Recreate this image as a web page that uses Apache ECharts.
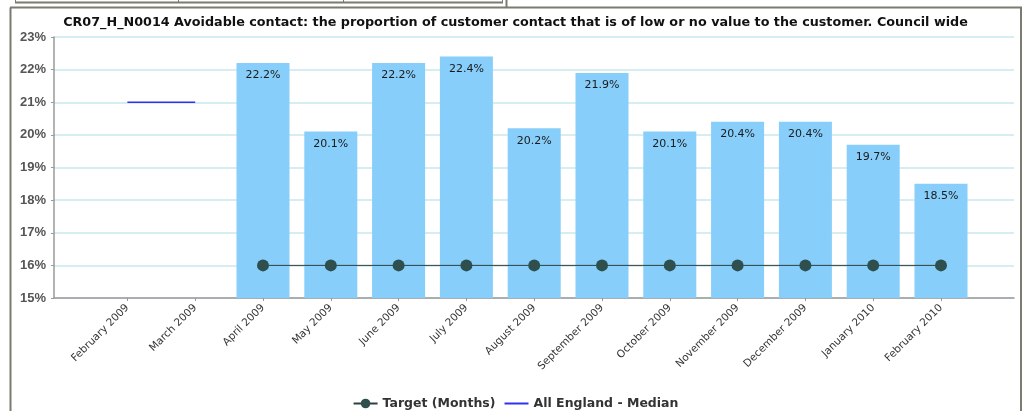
<!DOCTYPE html>
<html>
<head>
<meta charset="utf-8">
<script src="https://cdn.jsdelivr.net/npm/echarts@6/dist/echarts.min.js"></script>
<style>
html,body{margin:0;padding:0;background:#fff;}
#chart{width:1031px;height:411px;}
</style>
</head>
<body>
<div id="chart"></div>
<script>
const titleText = 'CR07_H_N0014 Avoidable contact: the proportion of customer contact that is of low or no value to the customer. Council wide';
const categories = ['February 2009','March 2009','April 2009','May 2009','June 2009','July 2009','August 2009','September 2009','October 2009','November 2009','December 2009','January 2010','February 2010'];
const actualValues = [null, null, 22.2, 20.1, 22.2, 22.4, 20.2, 21.9, 20.1, 20.4, 20.4, 19.7, 18.5];
const targetValues = [null, null, 16, 16, 16, 16, 16, 16, 16, 16, 16, 16, 16];
const medianValues = [21, 21, null, null, null, null, null, null, null, null, null, null, null];
const yTicks = [15, 16, 17, 18, 19, 20, 21, 22, 23];

const frameColor = '#7b7b70';
const yMin = yTicks[0], yMax = yTicks[yTicks.length - 1];
const chart = echarts.init(document.getElementById('chart'));
chart.setOption({
  animation: false,
  backgroundColor: '#fff',
  title: {
    text: titleText,
    left: 'center',
    top: 11,
    textStyle: {fontFamily: 'DejaVu Sans', fontSize: 12.75, fontWeight: 'bold', color: '#111'}
  },
  grid: [
    {left: 54, right: 17, top: 37, bottom: 113, containLabel: false},
    {left: 59.6, right: 22.2, top: 37, bottom: 113, containLabel: false}
  ],
  legend: {
    top: 392,
    left: 'center',
    itemGap: 8,
    itemWidth: 24,
    itemHeight: 12,
    textStyle: {fontFamily: 'DejaVu Sans', fontSize: 12.5, fontWeight: 'bold', color: '#333'},
    data: [
      {name: 'Target (Months)'},
      {name: 'All England - Median', itemStyle: {opacity: 0}}
    ]
  },
  xAxis: [
    {
      type: 'value', gridIndex: 0, min: 0, max: 1,
      axisLine: {show: true, onZero: false, lineStyle: {color: '#9a9a9a', width: 1.5}},
      axisTick: {show: false}, axisLabel: {show: false}, splitLine: {show: false}
    },
    {
      type: 'category',
      gridIndex: 1,
      data: categories,
      boundaryGap: false,
      min: -1,
      max: 13,
      axisLine: {show: false},
      axisTick: {show: true, length: 3, lineStyle: {color: '#999'},
        interval: (idx, val) => idx >= 0 && idx < categories.length},
      axisLabel: {rotate: 45, fontFamily: 'DejaVu Sans', fontSize: 10.5, color: '#333', margin: 8},
      splitLine: {show: false}
    }
  ],
  yAxis: [
    {
      type: 'value', gridIndex: 0,
      min: yMin, max: yMax, interval: 1,
      axisLine: {show: true, lineStyle: {color: '#9a9a9a', width: 1.5}},
      axisTick: {show: true, length: 3, lineStyle: {color: '#999'}},
      axisLabel: {formatter: v => v + '%', fontFamily: 'Liberation Sans', fontSize: 13, fontWeight: 'bold', color: '#555', margin: 8},
      splitLine: {lineStyle: {color: '#c9e8ee', width: 1.5}}
    },
    {
      type: 'value', gridIndex: 1,
      min: yMin, max: yMax, interval: 1,
      axisLine: {show: false}, axisTick: {show: false}, axisLabel: {show: false}, splitLine: {show: false}
    }
  ],
  series: [
    {
      name: 'Actual',
      type: 'bar',
      xAxisIndex: 1, yAxisIndex: 1,
      data: actualValues,
      barWidth: 53,
      itemStyle: {color: '#87cefa'},
      label: {show: true, position: 'insideTop', distance: 7, formatter: p => p.value.toFixed(1) + '%', fontFamily: 'DejaVu Sans', fontSize: 11, color: '#1a1a1a'},
      z: 2
    },
    {
      name: 'Target (Months)',
      type: 'line',
      xAxisIndex: 1, yAxisIndex: 1,
      data: targetValues,
      symbol: 'circle',
      symbolSize: 12,
      itemStyle: {color: '#2f4f4f'},
      lineStyle: {color: '#2f3f3f', width: 1},
      z: 5
    },
    {
      name: 'All England - Median',
      type: 'line',
      xAxisIndex: 1, yAxisIndex: 1,
      data: medianValues,
      symbol: 'none',
      itemStyle: {color: '#3030ee'},
      lineStyle: {color: '#3030ee', width: 1.5},
      z: 4
    }
  ],
  graphic: [
    {type: 'line', shape: {x1: 10.5, y1: 7.5, x2: 10.5, y2: 411}, style: {stroke: frameColor, lineWidth: 2}},
    {type: 'line', shape: {x1: 1021, y1: 7.5, x2: 1021, y2: 411}, style: {stroke: frameColor, lineWidth: 2}},
    {type: 'line', shape: {x1: 10, y1: 7.5, x2: 1022, y2: 7.5}, style: {stroke: frameColor, lineWidth: 2}},
    {type: 'line', shape: {x1: 15, y1: 2.5, x2: 503, y2: 2.5}, style: {stroke: frameColor, lineWidth: 2}},
    {type: 'line', shape: {x1: 15.5, y1: 0, x2: 15.5, y2: 3}, style: {stroke: frameColor, lineWidth: 1}},
    {type: 'line', shape: {x1: 178.5, y1: 0, x2: 178.5, y2: 3}, style: {stroke: frameColor, lineWidth: 1}},
    {type: 'line', shape: {x1: 343.5, y1: 0, x2: 343.5, y2: 3}, style: {stroke: frameColor, lineWidth: 1}},
    {type: 'line', shape: {x1: 502.5, y1: 0, x2: 502.5, y2: 3}, style: {stroke: frameColor, lineWidth: 1}},
    {type: 'line', shape: {x1: 506.5, y1: 0, x2: 506.5, y2: 8}, style: {stroke: frameColor, lineWidth: 2}}
  ]
});
</script>
</body>
</html>
